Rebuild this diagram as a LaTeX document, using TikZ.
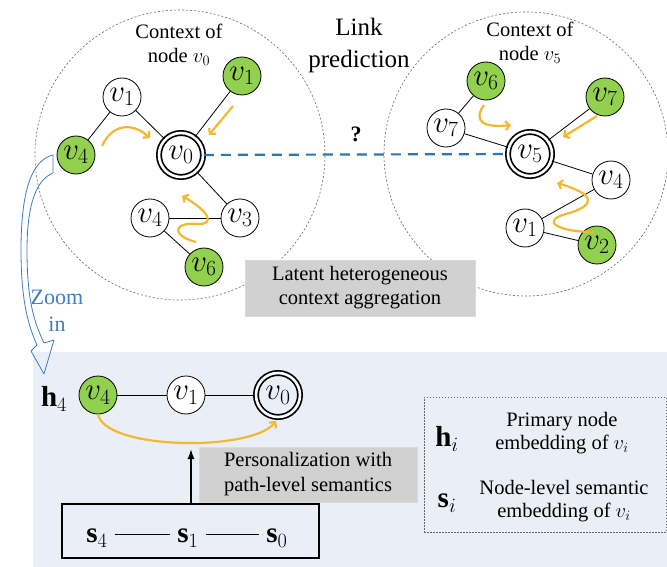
\RequirePackage{fix-cm}
\documentclass[tikz,border=0pt]{standalone}
\usepackage{fontspec}
\setmainfont{Liberation Serif}
\usetikzlibrary{arrows.meta}
\definecolor{ngreen}{HTML}{92D050}
\definecolor{ygold}{HTML}{F5B731}
\definecolor{dblue}{HTML}{2E75B6}
\definecolor{zblue}{HTML}{3F7CC8}
\definecolor{bgblue}{RGB}{234,239,247}
\definecolor{boxgray}{RGB}{210,209,209}
\newcommand{\nfont}{\fontsize{31}{33}\selectfont}
\newcommand{\bfont}{\fontsize{20.5}{24}\selectfont}
\newcommand{\mfont}{\fontsize{29}{31}\selectfont}
\begin{document}
\begin{tikzpicture}[x=1pt,y=-1pt,
  wnode/.style={circle,draw,line width=0.8pt,minimum size=38pt,inner sep=0pt,fill=white,font=\nfont},
  gnode/.style={wnode,fill=ngreen},
  tnode/.style={circle,draw,line width=1.7pt,double distance=2.6pt,minimum size=44pt,inner sep=0pt,font=\nfont},
  edge/.style={line width=0.8pt},
  yarrow/.style={draw=ygold,line width=2.2pt,-{Straight Barb[length=4pt,width=9pt]}},
  ctx/.style={draw=black!60,line width=0.6pt,dash pattern=on 2pt off 2pt},
  txt/.style={font=\bfont,align=center,inner sep=0pt},
  mlab/.style={inner sep=0pt,font=\mfont},
  graybox/.style={fill=boxgray,draw=boxgray!80!white,font=\bfont,align=center,inner sep=0pt},
]
\useasboundingbox (0,0) rectangle (667,567);
\fill[white] (0,0) rectangle (667,567);
% bottom panel
\fill[bgblue] (33,352) rectangle (667,567);
% context circles
\draw[ctx] (180,155) circle[radius=145pt];
\draw[ctx] (526,154) circle[radius=142pt];

% titles
\node[txt] (ctxL) at (179,45) {Context of\\node $v_0$};
\node[txt] (ctxR) at (530,43) {Context of\\node $v_5$};
\node[txt,font=\fontsize{25}{32}\selectfont] (link) at (359,45) {Link\\prediction};

% left context nodes
\node[wnode] (L1) at (122,97) {$v_1$};
\node[gnode] (Lg1) at (242,76) {$v_1$};
\node[gnode] (Lg4) at (76,155) {$v_4$};
\node[tnode] (L0) at (181,155) {$v_0$};
\node[wnode] (L4) at (150,218) {$v_4$};
\node[wnode] (L3) at (240,218) {$v_3$};
\node[gnode] (Lg6) at (204,267) {$v_6$};
\draw[edge] (L1) -- (Lg4);
\draw[edge] (L1) -- (L0);
\draw[edge] (Lg1) -- (L0);
\draw[edge] (L0) -- (L3);
\draw[edge] (L4) -- (L3);
\draw[edge] (L4) -- (Lg6);

% right context nodes
\node[gnode] (Rg6) at (486,81) {$v_6$};
\node[gnode] (Rg7) at (605,97) {$v_7$};
\node[wnode] (R7) at (446,128) {$v_7$};
\node[tnode] (R5) at (530,154) {$v_5$};
\node[wnode] (R4) at (611,180) {$v_4$};
\node[wnode] (R1) at (525,228) {$v_1$};
\node[gnode] (Rg2) at (597,245) {$v_2$};
\draw[edge] (Rg6) -- (R7);
\draw[edge] (R7) -- (R5);
\draw[edge] (Rg7) -- (R5);
\draw[edge] (R5) -- (R4);
\draw[edge] (R1) -- (R4);
\draw[edge] (R1) -- (Rg2);

% link prediction dashed line
\draw[dblue,line width=2.2pt,dash pattern=on 10pt off 7pt] (L0) -- (R5);
\node[font=\fontsize{22}{24}\selectfont\bfseries,inner sep=0pt] (q) at (356,134) {?};

% yellow aggregation arrows (left)
\draw[yarrow] (102,146) .. controls (112,124) and (132,122) .. (150,138);
\draw[yarrow] (233,106) -- (209,135);
\draw[yarrow] (196,242) .. controls (172,236) and (172,222) .. (197,224) .. controls (216,225) and (209,211) .. (182,196);
% yellow aggregation arrows (right)
\draw[yarrow] (484,105) .. controls (472,122) and (485,128) .. (511,125);
\draw[yarrow] (597,116) -- (563,137);
\draw[yarrow] (594,232) .. controls (558,232) and (540,221) .. (566,214) .. controls (595,206) and (598,195) .. (557,183);

% latent box
\node[graybox,minimum width=230pt,minimum height=56pt] (latent) at (360,288) {Latent heterogeneous\\context aggregation};

% zoom in arrow
\draw[zblue,line width=0.8pt,line join=round]
  (53,155) .. controls (32,160) and (21,190) .. (21,250)
  .. controls (21,300) and (28,325) .. (37,345)
  -- (31,351) -- (44,374) -- (54,340) -- (44,343)
  .. controls (34,322) and (27,300) .. (27,250)
  .. controls (27,205) and (36,180) .. (53,173) -- cycle;
\node[txt,text=zblue,font=\fontsize{22}{27}\selectfont] (zoom) at (57,311) {Zoom\\in};

% bottom path
\node[mlab] (h4) at (54,399) {$\mathbf{h}_4$};
\node[gnode] (B4) at (98,395) {$v_4$};
\node[wnode] (B1) at (186,395) {$v_1$};
\node[tnode] (B0) at (278,395) {$v_0$};
\draw[edge] (B4) -- (B1);
\draw[edge] (B1) -- (B0);
\draw[yarrow] (98,414) .. controls (104,450) and (252,452) .. (276,421);

% personalization
\node[graybox,minimum width=218pt,minimum height=55pt,font=\fontsize{20.5}{25}\selectfont] (pers) at (308,474.5) {Personalization with\\path-level semantics};
\node[draw,line width=1.1pt,minimum width=257pt,minimum height=54pt,inner sep=0pt] (sbox) at (190.5,531) {};
\node[mlab] (s4) at (97,538) {$\mathbf{s}_4$};
\node[mlab] (s1) at (188,538) {$\mathbf{s}_1$};
\node[mlab] (s0) at (277,538) {$\mathbf{s}_0$};
\draw[edge,shorten <=7pt,shorten >=7pt] ([yshift=4pt]s4.east) -- ([yshift=4pt]s1.west);
\draw[edge,shorten <=7pt,shorten >=7pt] ([yshift=4pt]s1.east) -- ([yshift=4pt]s0.west);
\coordinate (arTop) at (191,449);
\draw[line width=1.6pt,-{Latex[length=10pt,width=7pt]}] (sbox.north -| arTop) -- (arTop);

% legend
\node[draw=black!60,line width=0.7pt,dash pattern=on 1.5pt off 1.5pt,minimum width=242pt,minimum height=135pt,inner sep=0pt] (legend) at (545,464.5) {};
\node[mlab] (hi) at (447,439) {$\mathbf{h}_i$};
\node[txt,font=\fontsize{20.5}{23}\selectfont] (hit) at (562,433) {Primary node\\embedding of $v_i$};
\node[mlab] (si) at (447,503) {$\mathbf{s}_i$};
\node[txt,font=\fontsize{20.5}{23}\selectfont] (sit) at (564,501) {Node-level semantic\\embedding of $v_i$};
\end{tikzpicture}
\end{document}
